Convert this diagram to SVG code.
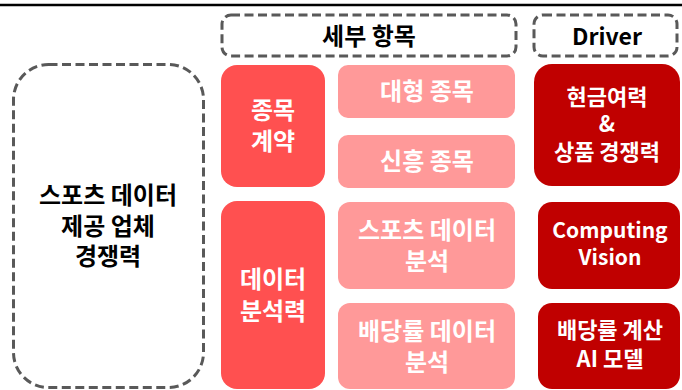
<svg xmlns="http://www.w3.org/2000/svg" width="682" height="390" viewBox="0 0 682 390">
<style>
.dash{fill:none;stroke:#595959;stroke-width:3;stroke-dasharray:9 4.5}
.red{fill:#FF5050}
.pink{fill:#FF9999}
.dark{fill:#C00000}
text{font-family:"Noto Sans CJK KR","Noto Sans",sans-serif;font-weight:bold;text-anchor:middle}
.blk{fill:#000;font-size:24px}
.wt{fill:#fff;font-size:24px}
.ws{fill:#fff;font-size:22px}
.wl{fill:#fff;font-size:21px}
</style>
<rect width="682" height="390" fill="#fff"/>
<line x1="0" y1="5" x2="682" y2="5" stroke="#000" stroke-width="2.5"/>
<g id="header-detail">
<rect class="dash" x="222" y="15" width="294" height="41" rx="9"/>
<text class="blk" x="369" y="45">세부 항목</text>
</g>
<g id="header-driver">
<rect class="dash" x="534" y="15" width="143" height="41" rx="9"/>
<text class="blk" x="607" y="45" style="font-size:23px">Driver</text>
</g>
<g id="main">
<rect class="dash" x="13.5" y="64.5" width="190" height="323" rx="35"/>
<text class="blk" x="108" y="204"><tspan x="108">스포츠 데이터</tspan><tspan x="108" dy="31">제공 업체</tspan><tspan x="108" dy="30">경쟁력</tspan></text>
</g>
<g id="contract">
<rect class="red" x="221" y="65" width="104" height="122" rx="16"/>
<text class="wt" x="273" y="119"><tspan x="273">종목</tspan><tspan x="273" dy="31">계약</tspan></text>
</g>
<g id="analysis">
<rect class="red" x="221" y="201" width="104" height="188" rx="16"/>
<text class="wt" x="273" y="288"><tspan x="273">데이터</tspan><tspan x="273" dy="32">분석력</tspan></text>
</g>
<g id="large">
<rect class="pink" x="338" y="65" width="177" height="53" rx="10"/>
<text class="wt" x="427" y="100">대형 종목</text>
</g>
<g id="emerging">
<rect class="pink" x="338" y="135" width="177" height="53" rx="10"/>
<text class="wt" x="427" y="170">신흥 종목</text>
</g>
<g id="sports-analysis">
<rect class="pink" x="338" y="202" width="177" height="87" rx="12"/>
<text class="wt" x="427" y="239"><tspan x="427">스포츠 데이터</tspan><tspan x="427" dy="31">분석</tspan></text>
</g>
<g id="odds-analysis">
<rect class="pink" x="338" y="303" width="177" height="86" rx="12"/>
<text class="wt" x="427" y="340"><tspan x="427">배당률 데이터</tspan><tspan x="427" dy="31">분석</tspan></text>
</g>
<g id="cash">
<rect class="dark" x="534" y="64" width="146" height="122" rx="18"/>
<text class="ws" x="607" y="105"><tspan x="607">현금여력</tspan><tspan x="607" dy="27">&amp;</tspan><tspan x="607" dy="28">상품 경쟁력</tspan></text>
</g>
<g id="vision">
<rect class="dark" x="538" y="202" width="142" height="87" rx="14"/>
<text class="wl" x="610" y="238"><tspan x="610">Computing</tspan><tspan x="610" dy="27">Vision</tspan></text>
</g>
<g id="ai">
<rect class="dark" x="538" y="303" width="142" height="86" rx="14"/>
<text class="ws" x="610" y="338"><tspan x="610">배당률 계산</tspan><tspan x="610" dy="29">AI 모델</tspan></text>
</g>
<g id="connectors"></g>
</svg>
